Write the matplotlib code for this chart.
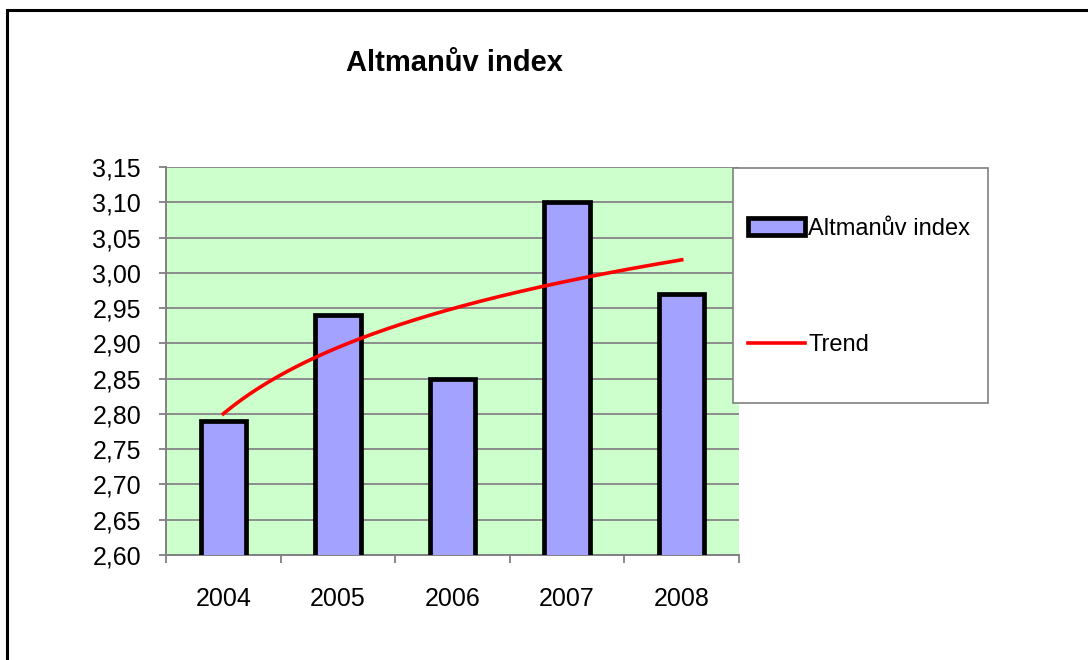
import numpy as np
import matplotlib
matplotlib.use("Agg")
import matplotlib.pyplot as plt
from matplotlib.patches import Rectangle

years = ["2004", "2005", "2006", "2007", "2008"]
values = [2.79, 2.94, 2.85, 3.10, 2.97]
yticks = [2.60, 2.65, 2.70, 2.75, 2.80, 2.85, 2.90, 2.95, 3.00, 3.05, 3.10, 3.15]
title = "Altmanův index"
series_label = "Altmanův index"
trend_label = "Trend"

plt.rcParams['font.family'] = ['Liberation Sans', 'DejaVu Sans']

W, H = 1088, 660
fig = plt.figure(figsize=(W / 100, H / 100), dpi=100)
fig.patch.set_facecolor('white')

L, R, T, B = 166, 739, 167, 555
ax = fig.add_axes([L / W, 1 - B / H, (R - L) / W, (B - T) / H])
ax.set_facecolor('#ccffcc')

x = np.arange(1, len(values) + 1)
bars = ax.bar(x, values, width=0.395, bottom=0, color='#a3a3ff', edgecolor='black',
              linewidth=3.4, zorder=3, label=series_label)

# logarithmic trendline (least squares fit, as in the spreadsheet)
b, a = np.polyfit(np.log(x), np.array(values), 1)
xt = np.linspace(1, len(values), 200)
line, = ax.plot(xt, a + b * np.log(xt), color='#ff0000', lw=2.6, zorder=4, label=trend_label)

ax.set_xlim(0.5, len(values) + 0.5)
ax.set_ylim(2.60, 3.15)
ax.set_yticks(yticks)
ax.set_yticklabels([f"{v:.2f}".replace('.', ',') for v in yticks])
ax.set_xticks(x)
ax.set_xticklabels(years)
ax.set_xticks(np.arange(0.5, len(values) + 1, 1.0), minor=True)
ax.tick_params(axis='x', which='major', length=0, pad=23, labelsize=18)
ax.tick_params(axis='x', which='minor', length=6, width=1.3, color='#808080')
ax.tick_params(axis='y', length=5, width=1.3, color='#808080', pad=13, labelsize=18)

ax.yaxis.grid(True, color='#8c8c8c', lw=1.4, zorder=1)
ax.set_axisbelow(True)
for s in ['top', 'right']:
    ax.spines[s].set_visible(False)
for s in ['left', 'bottom']:
    ax.spines[s].set_color('#808080')
    ax.spines[s].set_linewidth(1.4)

fig.text(454 / W, 1 - 63 / H, title, ha='center', va='center', fontsize=21, fontweight='bold')

# legend box
lx0, lx1, ly0, ly1 = 733, 988, 168, 403
fig.patches.append(Rectangle((lx0 / W, 1 - ly1 / H), (lx1 - lx0) / W, (ly1 - ly0) / H,
                             transform=fig.transFigure, facecolor='white',
                             edgecolor='#808080', lw=1.2, zorder=0))
leg = fig.legend(handles=[bars, line], labels=[series_label, trend_label],
                 loc='upper left', bbox_to_anchor=(748 / W, 1 - 218 / H), frameon=False,
                 fontsize=17, handlelength=2.4, handletextpad=0.15, labelspacing=4.0,
                 borderaxespad=0, borderpad=0)

# outer chart border
fig.patches.append(Rectangle((7 / W, -0.2), 1.3, 1.2 - 10 / H, transform=fig.transFigure,
                             facecolor='none', edgecolor='black', lw=2.2, clip_on=False))

fig.savefig('out.png', dpi=100)
